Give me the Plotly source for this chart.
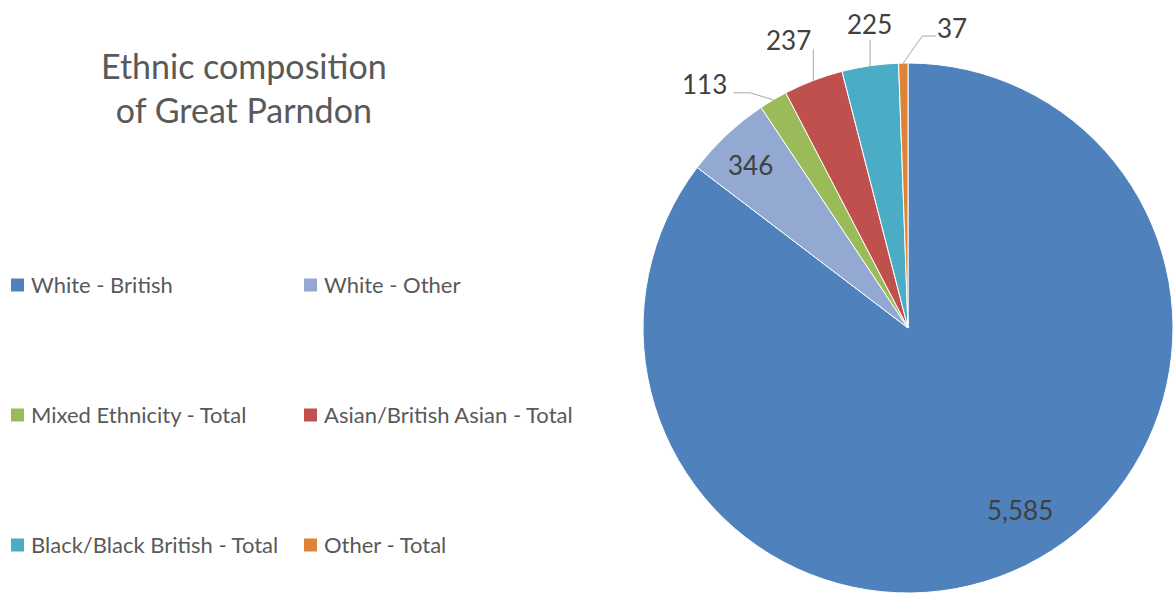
import math
import plotly.graph_objects as go

# ---------------- data ----------------
categories = [
    "White - British",
    "White - Other",
    "Mixed Ethnicity - Total",
    "Asian/British Asian - Total",
    "Black/Black British - Total",
    "Other - Total",
]
values = [5585, 346, 113, 237, 225, 37]
colors = ["#4F81BD", "#93A9D1", "#9BBB59", "#C0504D", "#4BACC6", "#DD8438"]
title_text = "Ethnic composition<br>of Great Parndon"

# ---------------- layout constants (pixels) ----------------
W, H = 1174, 595
CX, CY, R = 908, 328, 265          # pie centre and radius
FONT = "Lato"
TEXT_GREY = "#595959"
LABEL_GREY = "#404040"
LEADER_GREY = "#A6A6A6"

# label placement per slice: (mode, radial fraction, dx, dy, leader offsets)
label_style = [
    ("in", 0.80, 18, -8, None),
    ("in", 0.85, -3, 1, None),
    ("out", 1.0, -69, -16, [(0, 0), (-23, -7), (-40, -7)]),
    ("out", 1.0, -25, -40, [(0, 0), (0, -31)]),
    ("out", 1.0, -1, -42, [(0, 0), (0, -26)]),
    ("out", 1.0, 49, -35, [(0, 0), (19, -27), (33, -27)]),
]


def px(x):
    return x / W


def py(y):
    return 1 - y / H


fig = go.Figure(
    go.Pie(
        labels=categories,
        values=values,
        sort=False,
        direction="clockwise",
        rotation=0,
        marker=dict(colors=colors, line=dict(color="white", width=1)),
        textinfo="none",
        hoverinfo="label+value",
        showlegend=False,
        domain=dict(x=[px(CX - R), px(CX + R)], y=[py(CY + R), py(CY - R)]),
    )
)

annotations = []
shapes = []

# ---- data labels, positioned from the slice angles ----
total = sum(values)
cum = 0
for v, (mode, frac, dx, dy, leader) in zip(values, label_style):
    mid = (cum + v / 2) / total * 2 * math.pi
    cum += v
    ex = CX + R * frac * math.sin(mid)
    ey = CY - R * frac * math.cos(mid)
    annotations.append(
        dict(
            x=px(ex + dx), y=py(ey + dy), xref="paper", yref="paper",
            text=f"{v:,}", showarrow=False,
            font=dict(family=FONT, size=26, color=LABEL_GREY),
            xanchor="center", yanchor="middle",
        )
    )
    if leader:
        path = " ".join(
            ("M" if i == 0 else "L") + f" {px(ex + ox)} {py(ey + oy)}"
            for i, (ox, oy) in enumerate(leader)
        )
        shapes.append(
            dict(type="path", path=path, xref="paper", yref="paper",
                 line=dict(color=LEADER_GREY, width=1))
        )

# ---- title ----
annotations.append(
    dict(
        x=px(244), y=py(87), xref="paper", yref="paper",
        text=title_text, showarrow=False, align="center",
        font=dict(family=FONT, size=34, color=TEXT_GREY),
        xanchor="center", yanchor="middle",
    )
)

# ---- legend (two columns, three rows) ----
col_x = [11, 304]
row_y = [284, 414, 544]
SQ = 13
for i, (name, col) in enumerate(zip(categories, colors)):
    x0 = col_x[i % 2]
    yc = row_y[i // 2]
    shapes.append(
        dict(type="rect", xref="paper", yref="paper",
             x0=px(x0), x1=px(x0 + SQ), y0=py(yc + 1 + SQ / 2), y1=py(yc + 1 - SQ / 2),
             fillcolor=col, line=dict(width=0))
    )
    annotations.append(
        dict(
            x=px(x0 + SQ + 5), y=py(yc), xref="paper", yref="paper",
            text=name, showarrow=False,
            font=dict(family=FONT, size=22, color=TEXT_GREY),
            xanchor="left", yanchor="middle",
        )
    )

fig.update_layout(
    width=W, height=H,
    margin=dict(l=0, r=0, t=0, b=0),
    paper_bgcolor="white", plot_bgcolor="white",
    annotations=annotations, shapes=shapes,
    showlegend=False,
)

fig.write_html(
    "out.html",
    config={"displayModeBar": False},
    post_script="document.body.style.margin='0';document.body.style.overflow='hidden';",
)
